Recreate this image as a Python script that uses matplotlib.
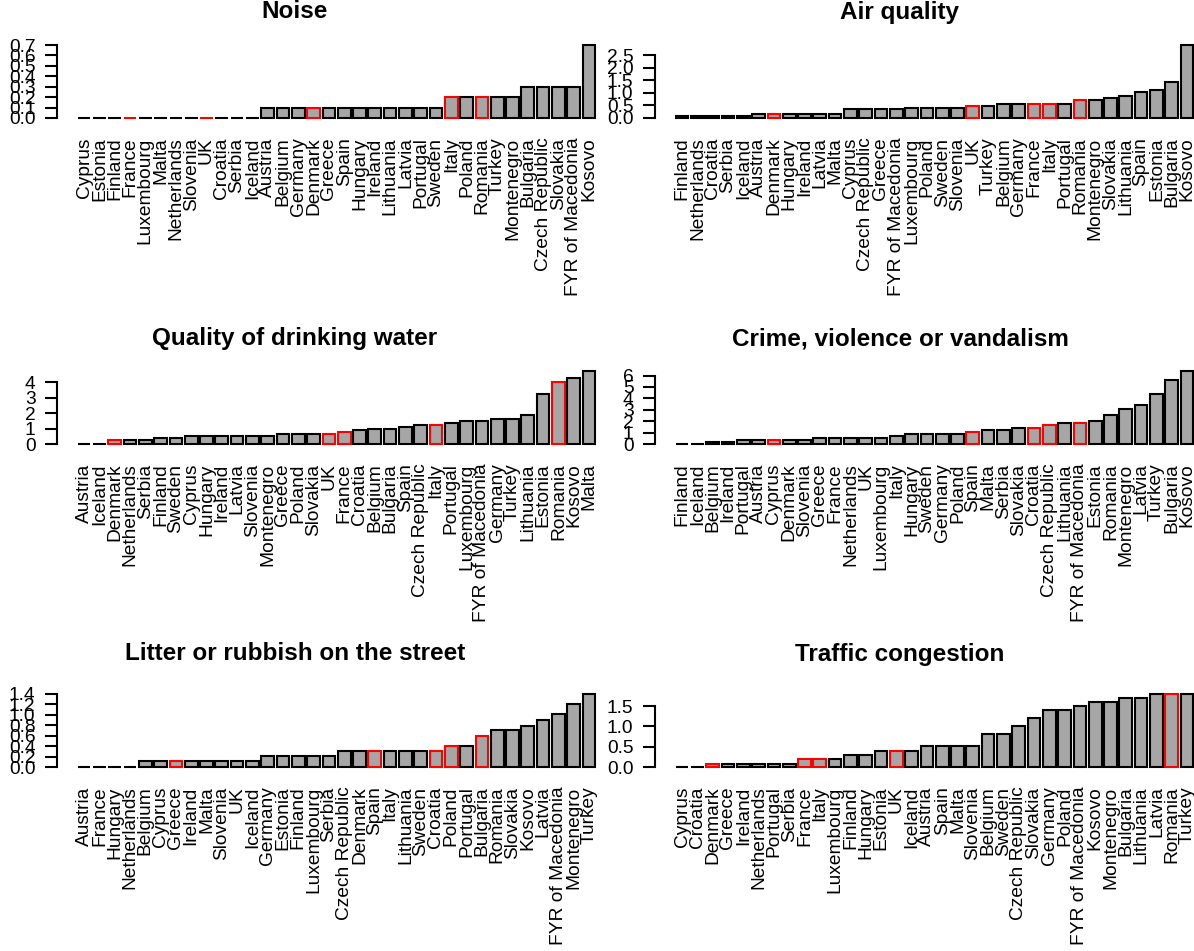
import matplotlib
matplotlib.use("Agg")
import matplotlib.pyplot as plt
import numpy as np

plt.rcParams['font.family'] = ['Liberation Sans', 'DejaVu Sans']

# Noise
noise_names = ["Cyprus", "Estonia", "Finland", "France", "Luxembourg", "Malta", "Netherlands",
               "Slovenia", "UK", "Croatia", "Serbia", "Iceland", "Austria", "Belgium", "Germany",
               "Denmark", "Greece", "Spain", "Hungary", "Ireland", "Lithuania", "Latvia", "Portugal",
               "Sweden", "Italy", "Poland", "Romania", "Turkey", "Montenegro", "Bulgaria",
               "Czech Republic", "Slovakia", "FYR of Macedonia", "Kosovo"]
noise_values = [0, 0, 0, 0, 0, 0, 0, 0, 0, 0, 0, 0,
                0.1, 0.1, 0.1, 0.1, 0.1, 0.1, 0.1, 0.1, 0.1, 0.1, 0.1, 0.1,
                0.2, 0.2, 0.2, 0.2, 0.2, 0.3, 0.3, 0.3, 0.3, 0.7]
noise_red = ["France", "UK", "Denmark", "Italy", "Romania"]
noise_ticks = ["0.0", "0.1", "0.2", "0.3", "0.4", "0.5", "0.6", "0.7"]

# Air quality
air_names = ["Finland", "Netherlands", "Croatia", "Serbia", "Iceland", "Austria", "Denmark",
             "Hungary", "Ireland", "Latvia", "Malta", "Cyprus", "Czech Republic", "Greece",
             "FYR of Macedonia", "Luxembourg", "Poland", "Sweden", "Slovenia", "UK", "Turkey",
             "Belgium", "Germany", "France", "Italy", "Portugal", "Romania", "Montenegro",
             "Slovakia", "Lithuania", "Spain", "Estonia", "Bulgaria", "Kosovo"]
air_values = [0.06, 0.06, 0.06, 0.06, 0.06, 0.16, 0.16, 0.16, 0.16, 0.16, 0.16,
              0.34, 0.34, 0.34, 0.34, 0.4, 0.4, 0.4, 0.4, 0.48, 0.48,
              0.57, 0.57, 0.57, 0.57, 0.57, 0.72, 0.72, 0.8, 0.87, 1.02, 1.1, 1.43, 2.9]
air_red = ["Denmark", "UK", "France", "Italy", "Romania"]
air_ticks = ["0.0", "0.5", "1.0", "1.5", "2.0", "2.5"]

# Quality of drinking water
water_names = ["Austria", "Iceland", "Denmark", "Netherlands", "Serbia", "Finland", "Sweden",
               "Cyprus", "Hungary", "Ireland", "Latvia", "Slovenia", "Montenegro", "Greece",
               "Poland", "Slovakia", "UK", "France", "Croatia", "Belgium", "Bulgaria", "Spain",
               "Czech Republic", "Italy", "Portugal", "Luxembourg", "FYR of Macedonia", "Germany",
               "Turkey", "Lithuania", "Estonia", "Romania", "Kosovo", "Malta"]
water_values = [0, 0, 0.27, 0.27, 0.27, 0.38, 0.38, 0.5, 0.5, 0.5, 0.5, 0.5, 0.5,
                0.62, 0.62, 0.62, 0.62, 0.78, 0.88, 1.0, 1.0, 1.13, 1.25, 1.25, 1.38,
                1.5, 1.5, 1.62, 1.62, 1.88, 3.25, 4.0, 4.25, 4.72]
water_red = ["Denmark", "UK", "France", "Italy", "Romania"]
water_ticks = ["0", "1", "2", "3", "4"]

# Crime, violence or vandalism
crime_names = ["Finland", "Iceland", "Belgium", "Ireland", "Portugal", "Austria", "Cyprus",
               "Denmark", "Slovenia", "Greece", "France", "Netherlands", "UK", "Luxembourg",
               "Italy", "Hungary", "Sweden", "Germany", "Poland", "Spain", "Malta", "Serbia",
               "Slovakia", "Croatia", "Czech Republic", "Lithuania", "FYR of Macedonia", "Estonia",
               "Romania", "Montenegro", "Latvia", "Turkey", "Bulgaria", "Kosovo"]
crime_values = [0.04, 0.04, 0.2, 0.2, 0.37, 0.37, 0.37, 0.37, 0.37, 0.54, 0.54, 0.54, 0.54, 0.54,
                0.69, 0.84, 0.84, 0.84, 0.84, 1.03, 1.2, 1.2, 1.37, 1.37, 1.69, 1.88, 1.88, 2.03,
                2.54, 3.03, 3.4, 4.4, 5.57, 6.4]
crime_red = ["Cyprus", "Spain", "Croatia", "Czech Republic", "FYR of Macedonia"]
crime_ticks = ["0", "1", "2", "3", "4", "5", "6"]

# Litter or rubbish on the street
litter_names = ["Austria", "France", "Hungary", "Netherlands", "Belgium", "Cyprus", "Greece",
                "Ireland", "Malta", "Slovenia", "UK", "Iceland", "Germany", "Estonia", "Finland",
                "Luxembourg", "Serbia", "Czech Republic", "Denmark", "Spain", "Italy", "Lithuania",
                "Sweden", "Croatia", "Poland", "Portugal", "Bulgaria", "Romania", "Slovakia",
                "Kosovo", "Latvia", "FYR of Macedonia", "Montenegro", "Turkey"]
litter_values = [0, 0, 0, 0, 0.11, 0.11, 0.11, 0.11, 0.11, 0.11, 0.11, 0.11,
                 0.22, 0.22, 0.22, 0.22, 0.22, 0.31, 0.31, 0.31, 0.31, 0.31, 0.31, 0.31,
                 0.41, 0.41, 0.6, 0.71, 0.71, 0.79, 0.91, 1.02, 1.21, 1.4]
litter_red = ["Greece", "Spain", "Croatia", "Poland", "Bulgaria"]
litter_ticks = ["0.0", "0.2", "0.4", "0.6", "0.8", "1.0", "1.2", "1.4"]

# Traffic congestion
traffic_names = ["Cyprus", "Croatia", "Denmark", "Greece", "Ireland", "Netherlands", "Portugal",
                 "Serbia", "France", "Italy", "Luxembourg", "Finland", "Hungary", "Estonia", "UK",
                 "Iceland", "Austria", "Spain", "Malta", "Slovenia", "Belgium", "Sweden",
                 "Czech Republic", "Slovakia", "Germany", "Poland", "FYR of Macedonia", "Kosovo",
                 "Montenegro", "Bulgaria", "Lithuania", "Latvia", "Romania", "Turkey"]
traffic_values = [0, 0, 0.08, 0.08, 0.08, 0.08, 0.08, 0.08, 0.19, 0.19, 0.19, 0.29, 0.29,
                  0.39, 0.39, 0.39, 0.52, 0.52, 0.52, 0.52, 0.81, 0.81, 1.0, 1.2, 1.4, 1.4,
                  1.5, 1.6, 1.6, 1.7, 1.7, 1.8, 1.8, 1.8]
traffic_red = ["Denmark", "France", "Italy", "UK", "Romania"]
traffic_ticks = ["0.0", "0.5", "1.0", "1.5"]

panels = [
    ("Noise", noise_names, noise_values, noise_red, noise_ticks),
    ("Air quality", air_names, air_values, air_red, air_ticks),
    ("Quality of drinking water", water_names, water_values, water_red, water_ticks),
    ("Crime, violence or vandalism", crime_names, crime_values, crime_red, crime_ticks),
    ("Litter or rubbish on the street", litter_names, litter_values, litter_red, litter_ticks),
    ("Traffic congestion", traffic_names, traffic_values, traffic_red, traffic_ticks),
]

W, H = 1194, 951
fig = plt.figure(figsize=(W / 100, H / 100), dpi=100)

axis_x = [57, 655]        # pixel position of the y axis line, per column
base_y = [118, 444, 767]  # pixel position of the zero line, per row
title_y = [12, 339, 654]
title_x = [295, 900]
unit = 12.75              # pixels per bar unit
data_h = 73               # pixels from 0 to the tallest bar

for k, (title, names, vals, red, ticks) in enumerate(panels):
    row, col = divmod(k, 2)
    n = len(vals)
    x0, x1 = 0.2, 1.2 * n
    pad = 0.04 * (x1 - x0)
    xlim = (x0 - pad, x1 + pad)
    w_px = (xlim[1] - xlim[0]) * unit
    bottom_px = base_y[row] + 0.04 * data_h
    h_px = data_h * 1.08
    ax = fig.add_axes([axis_x[col] / W, 1 - bottom_px / H, w_px / W, h_px / H])

    centers = 0.7 + 1.2 * np.arange(n)
    edges = ["red" if c in red else "black" for c in names]
    ax.bar(centers, vals, width=1, color="#A6A6A6", edgecolor=edges, linewidth=1.5)

    top = max(vals)
    ax.set_xlim(xlim)
    ax.set_ylim(-0.04 * top, 1.04 * top)

    tv = [float(t) for t in ticks]
    ax.set_yticks(tv, ticks)
    ax.set_xticks(centers, names, rotation=90)
    for s in ["top", "right", "bottom"]:
        ax.spines[s].set_visible(False)
    ax.spines["left"].set_bounds(tv[0], tv[-1])
    ax.spines["left"].set_linewidth(1.5)
    ax.tick_params(axis="y", length=8.5, width=1.5, pad=7, labelsize=13.8)
    ax.tick_params(axis="x", length=0, pad=12, labelsize=13.8)
    ax.patch.set_visible(False)

    fig.text(title_x[col] / W, 1 - title_y[row] / H, title, ha="center", va="center",
             fontsize=17.5, fontweight="bold")

fig.savefig("out.png", dpi=100)
